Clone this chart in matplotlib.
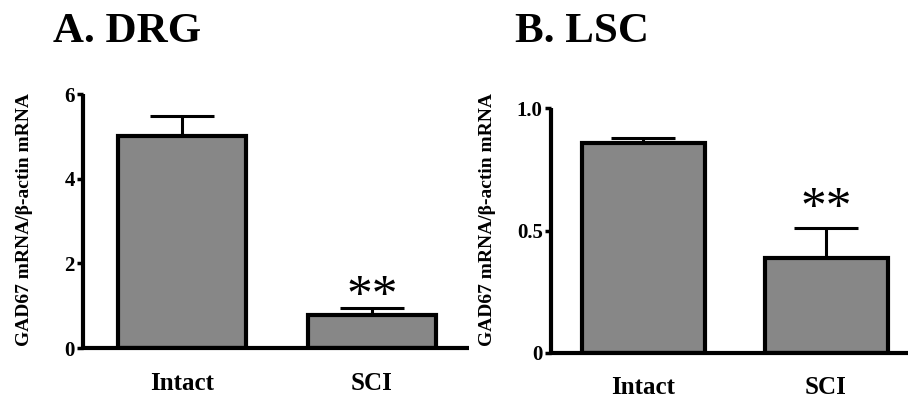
import matplotlib
matplotlib.use("Agg")
import matplotlib.pyplot as plt
from matplotlib.transforms import offset_copy

plt.rcParams['font.family'] = ['Liberation Serif', 'DejaVu Serif']
plt.rcParams['font.weight'] = 'bold'

categories = ["Intact", "SCI"]
drg_means = [5.0, 0.78]
drg_sem = [0.48, 0.16]
lsc_means = [0.857, 0.386]
lsc_sem = [0.02, 0.125]
stars = ["", "**"]
panel_titles = ["A. DRG", "B. LSC"]
ylabel = "GAD67 mRNA/\u03b2-actin mRNA"
drg_yticks = [0, 2, 4, 6]
drg_yticklabels = ["0", "2", "4", "6"]
lsc_yticks = [0, 0.5, 1.0]
lsc_yticklabels = ["0", "0.5", "1.0"]

W, H = 908, 403
fig = plt.figure(figsize=(W / 100, H / 100), dpi=100)

def px_axes(x0, x1, ytop, ybot):
    return fig.add_axes([x0 / W, (H - ybot) / H, (x1 - x0) / W, (ybot - ytop) / H])

def style(ax, yticks, yticklabels, ylim, xlim):
    for s in ['top', 'right']:
        ax.spines[s].set_visible(False)
    for s in ['left', 'bottom']:
        ax.spines[s].set_linewidth(3.0)
        ax.spines[s].set_capstyle('butt')
    ax.set_ylim(*ylim)
    ax.set_xlim(*xlim)
    ax.set_yticks(yticks)
    ax.set_yticklabels(yticklabels, fontsize=15, fontweight='bold')
    ax.tick_params(axis='y', length=4, width=2.5, pad=2)
    ax.set_xticks(range(len(categories)))
    ax.set_xticklabels(categories, fontsize=18, fontweight='bold')
    ax.tick_params(axis='x', length=0, pad=17)

def draw(ax, means, sem, width, star_off_px):
    x = list(range(len(categories)))
    ax.bar(x, means, width=width, color='#878787', edgecolor='black',
           linewidth=3.0, zorder=2)
    ax.errorbar(x, means, yerr=[[0] * len(sem), sem], fmt='none',
                ecolor='black', elinewidth=2.2, capsize=23, capthick=2.2,
                zorder=1)
    tr = offset_copy(ax.transData, fig=fig, x=0, y=star_off_px, units='dots')
    for xi, m, s, st in zip(x, means, sem, stars):
        if st:
            ax.text(xi, m + s, st, transform=tr, ha='center',
                    va='baseline', fontsize=37, fontweight='normal',
                    family=['Liberation Serif'])

# Panel A
axA = px_axes(83, 469, 94, 348)
style(axA, drg_yticks, drg_yticklabels, (0, 6), (-0.521, 1.511))
draw(axA, drg_means, drg_sem, 0.674, -1)

# Panel B
axB = px_axes(551, 908, 108.3, 352.7)
style(axB, lsc_yticks, lsc_yticklabels, (0, 1.0), (-0.503, 1.448))
draw(axB, lsc_means, lsc_sem, 0.672, 7)

# Titles
fig.text(53 / W, 1 - 42 / H, panel_titles[0], fontsize=31, fontweight='bold',
         ha='left', va='baseline')
fig.text(515 / W, 1 - 42 / H, panel_titles[1], fontsize=31, fontweight='bold',
         ha='left', va='baseline')

# Y labels
fig.text(25 / W, 1 - 220 / H, ylabel, rotation=90, fontsize=14,
         fontweight='bold', ha='center', va='center')
fig.text(488 / W, 1 - 219.5 / H, ylabel, rotation=90, fontsize=14,
         fontweight='bold', ha='center', va='center')

fig.savefig("out.png", dpi=100)
